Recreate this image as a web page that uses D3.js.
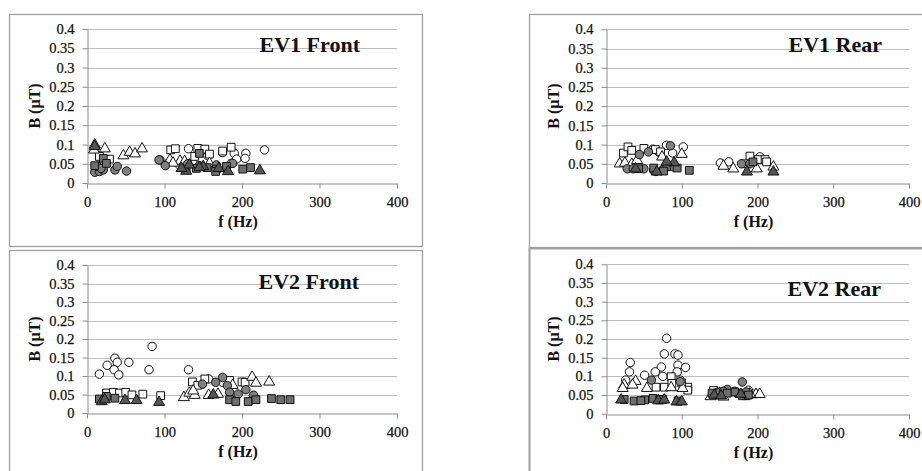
<!DOCTYPE html>
<html>
<head>
<meta charset="utf-8">
<script src="https://cdn.jsdelivr.net/npm/d3@7"></script>
<style>
  html, body { margin: 0; padding: 0; background: #fff; }
  svg { display: block; }
  text { font-family: "Liberation Serif", "Times New Roman", serif; fill: #111; }
</style>
</head>
<body>
<svg id="chart" width="922" height="471"></svg>
<script>
// values: [f (Hz), B (uT)]
const ev1FrontOpenCircle = [[131,.089],[229,.086],[205,.077],[204,.064],[190,.077],[193,.062],[175,.079],[156,.071],[102,.049],[94,.060],[120,.045],[137,.051],[186,.051]]
const ev1FrontGrayCircle = [[10,.028],[16,.030],[21,.034],[14,.043],[36,.034],[39,.043],[51,.031],[93,.060],[101,.045],[145,.045],[188,.051],[167,.047],[18,.038],[130,.050]]
const ev1FrontOpenSquare = [[108,.086],[114,.089],[143,.090],[152,.088],[186,.093],[175,.083],[29,.062],[16,.069],[21,.047],[139,.069],[158,.075]]
const ev1FrontGraySquare = [[10,.045],[21,.064],[25,.051],[128,.034],[141,.038],[167,.036],[180,.043],[166,.030],[201,.036],[211,.040],[145,.077],[155,.040]]
const ev1FrontOpenTriangle = [[10,.099],[9,.086],[23,.089],[47,.071],[55,.080],[62,.076],[71,.089],[107,.060],[120,.057],[126,.056],[158,.051],[111,.052]]
const ev1FrontGrayTriangle = [[10,.095],[128,.031],[132,.047],[150,.043],[182,.030],[223,.032],[122,.038],[145,.040],[170,.038]]

const ev1RearOpenCircle = [[62,.088],[80,.098],[88,.078],[102,.094],[151,.052],[162,.055],[203,.068],[70,.080]]
const ev1RearGrayCircle = [[44,.074],[56,.081],[85,.097],[179,.050],[190,.050],[28,.037],[36,.037],[50,.037],[63,.033],[76,.037],[89,.042],[66,.030]]
const ev1RearOpenSquare = [[23,.078],[29,.094],[34,.085],[50,.090],[65,.087],[72,.081],[190,.070],[201,.061],[210,.061],[184,.050],[212,.055]]
const ev1RearGraySquare = [[43,.037],[63,.039],[80,.042],[94,.039],[110,.033],[194,.055],[76,.031]]
const ev1RearOpenTriangle = [[18,.050],[25,.052],[34,.049],[41,.059],[74,.068],[100,.075],[155,.044],[168,.037],[199,.037],[221,.042]]
const ev1RearGrayTriangle = [[39,.037],[67,.029],[90,.053],[186,.029],[221,.029],[80,.055]]

const ev2FrontOpenCircle = [[16,.105],[26,.129],[36,.148],[39,.137],[35,.117],[41,.103],[54,.137],[84,.180],[80,.117],[131,.117],[157,.092],[175,.083]]
const ev2FrontGrayCircle = [[149,.078],[166,.083],[175,.096],[181,.074],[184,.056],[195,.051],[205,.063],[215,.048]]
const ev2FrontOpenSquare = [[25,.054],[34,.056],[42,.054],[50,.056],[58,.049],[72,.051],[95,.047],[136,.084],[143,.075],[152,.092],[184,.088],[200,.084],[204,.083]]
const ev2FrontGraySquare = [[16,.038],[25,.045],[36,.040],[184,.036],[192,.031],[208,.031],[218,.036],[238,.039],[250,.036],[262,.036]]
const ev2FrontOpenTriangle = [[125,.042],[132,.054],[139,.048],[157,.048],[169,.051],[188,.075],[213,.097],[218,.081],[235,.084],[137,.060]]
const ev2FrontGrayTriangle = [[19,.031],[23,.036],[49,.034],[64,.034],[93,.029],[163,.049]]

const ev2RearOpenCircle = [[80,.202],[77,.160],[91,.160],[95,.157],[32,.137],[31,.112],[73,.125],[65,.112],[95,.130],[105,.124],[26,.090],[51,.103],[94,.112],[75,.100],[98,.090],[172,.058],[188,.063]]
const ev2RearGrayCircle = [[60,.090],[98,.086],[160,.065],[180,.085],[170,.060],[185,.058],[148,.056],[155,.060]]
const ev2RearOpenSquare = [[86,.099],[108,.071],[77,.071],[66,.071],[87,.081],[100,.082],[108,.063],[142,.062],[150,.058],[185,.048],[195,.053],[175,.055]]
const ev2RearGraySquare = [[24,.038],[37,.034],[51,.037],[62,.041],[71,.037],[95,.034],[46,.035],[75,.038],[140,.055],[170,.058],[180,.048],[188,.050],[160,.055]]
const ev2RearOpenTriangle = [[24,.077],[39,.087],[54,.068],[86,.070],[101,.068],[35,.077],[22,.068],[138,.046],[145,.050],[150,.055],[198,.052],[203,.052],[155,.045],[190,.053]]
const ev2RearGrayTriangle = [[20,.037],[69,.035],[77,.037],[93,.032],[100,.032],[143,.050],[152,.048],[178,.052]]

const panelTitles = ['EV1 Front', 'EV1 Rear', 'EV2 Front', 'EV2 Rear']
const xTicks = [0, 100, 200, 300, 400]
const yTicks = [0, 0.05, 0.1, 0.15, 0.2, 0.25, 0.3, 0.35, 0.4]
const xLabel = 'f (Hz)'
const yLabel = 'B (\u00b5T)'

const panelData = [
  [ev1FrontOpenCircle, ev1FrontOpenSquare, ev1FrontOpenTriangle, ev1FrontGrayCircle, ev1FrontGraySquare, ev1FrontGrayTriangle],
  [ev1RearOpenCircle, ev1RearOpenSquare, ev1RearOpenTriangle, ev1RearGrayCircle, ev1RearGraySquare, ev1RearGrayTriangle],
  [ev2FrontOpenCircle, ev2FrontOpenSquare, ev2FrontOpenTriangle, ev2FrontGrayCircle, ev2FrontGraySquare, ev2FrontGrayTriangle],
  [ev2RearOpenCircle, ev2RearOpenSquare, ev2RearOpenTriangle, ev2RearGrayCircle, ev2RearGraySquare, ev2RearGrayTriangle]
]

// marker style per series slot
const markerStyles = [
  { type: d3.symbolCircle, size: 56, fill: '#fff' },
  { type: d3.symbolSquare, size: 60, fill: '#fff' },
  { type: d3.symbolTriangle, size: 52, fill: '#fff' },
  { type: d3.symbolCircle, size: 56, fill: '#7f7f7f' },
  { type: d3.symbolSquare, size: 60, fill: '#6f6f6f' },
  { type: d3.symbolTriangle, size: 52, fill: '#555' }
]

const LAYOUT = [
  { box: [9.5, 14.5, 413, 232], x: [87, 397], y: [183, 29], titleX: 360, titleY: 52 },
  { box: [529.5, 14.5, 420, 233], x: [606, 909], y: [183, 29.3], titleX: 882, titleY: 52 },
  { box: [9.5, 250.5, 413, 260], x: [87, 397], y: [413, 265], titleX: 359, titleY: 289 },
  { box: [529.5, 248.5, 420, 260], x: [606, 909], y: [413.7, 264.3], titleX: 881, titleY: 296 }
]

const FONT = '"Liberation Serif", "Times New Roman", serif'
const $svg = d3.select('#chart')
const fmt = d => String(+d.toFixed(2))

LAYOUT.forEach((L, i) => {
  const g = $svg.append('g')

  g.append('rect')
    .attr('x', L.box[0]).attr('y', L.box[1])
    .attr('width', L.box[2]).attr('height', L.box[3])
    .attr('fill', 'none')
    .attr('stroke', '#a0a0a0')
    .attr('stroke-width', i === 3 ? 2 : 1.3)

  const xScale = d3.scaleLinear().domain([0, 400]).range(L.x)
  const yScale = d3.scaleLinear().domain([0, 0.4]).range(L.y)

  // gridlines
  g.selectAll('.grid')
    .data(yTicks.slice(1))
    .enter()
    .append('line')
    .attr('x1', L.x[0]).attr('x2', L.x[1])
    .attr('y1', d => Math.round(yScale(d)) + 0.5)
    .attr('y2', d => Math.round(yScale(d)) + 0.5)
    .attr('stroke', '#bdbdbd')
    .attr('stroke-width', 1)

  const $xAxis = g.append('g')
    .attr('transform', `translate(0, ${Math.round(L.y[0]) + 0.5})`)
    .call(d3.axisBottom(xScale).tickValues(xTicks).tickSize(5).tickSizeOuter(0).tickPadding(8))
  const $yAxis = g.append('g')
    .attr('transform', `translate(${Math.round(L.x[0]) + 0.5}, 0)`)
    .call(d3.axisLeft(yScale).tickValues(yTicks).tickFormat(fmt).tickSize(5).tickSizeOuter(0).tickPadding(8))

  ;[$xAxis, $yAxis].forEach(a => {
    a.attr('font-family', FONT).attr('font-size', 14.5)
    a.select('.domain').attr('stroke', '#8c8c8c')
    a.selectAll('.tick line').attr('stroke', '#8c8c8c')
    a.selectAll('.tick text')
      .style('font-family', FONT)
      .style('font-size', '14.5px')
      .attr('fill', '#111')
      .attr('stroke', '#111')
      .attr('stroke-width', 0.25)
  })

  // panel title
  g.append('text')
    .attr('x', L.titleX).attr('y', L.titleY)
    .attr('text-anchor', 'end')
    .style('font-size', '22px')
    .style('font-weight', 'bold')
    .text(panelTitles[i])

  // axis titles
  g.append('text')
    .attr('x', (L.x[0] + L.x[1]) / 2 - 4)
    .attr('y', L.y[0] + 44)
    .attr('text-anchor', 'middle')
    .style('font-size', '16px')
    .style('font-weight', 'bold')
    .text(xLabel)

  g.append('text')
    .attr('transform', `translate(${L.x[0] - 47}, ${(L.y[0] + L.y[1]) / 2}) rotate(-90)`)
    .attr('text-anchor', 'middle')
    .style('font-size', '16px')
    .style('font-weight', 'bold')
    .text(yLabel)

  // markers
  panelData[i].forEach((series, s) => {
    const st = markerStyles[s]
    const sym = d3.symbol().type(st.type).size(st.size)
    g.selectAll('.m' + s)
      .data(series)
      .enter()
      .append('path')
      .attr('class', 'm' + s)
      .attr('d', sym)
      .attr('transform', d => `translate(${xScale(d[0])}, ${yScale(d[1])})`)
      .attr('fill', st.fill)
      .attr('stroke', '#111')
      .attr('stroke-width', 1)
  })
})
</script>
</body>
</html>
